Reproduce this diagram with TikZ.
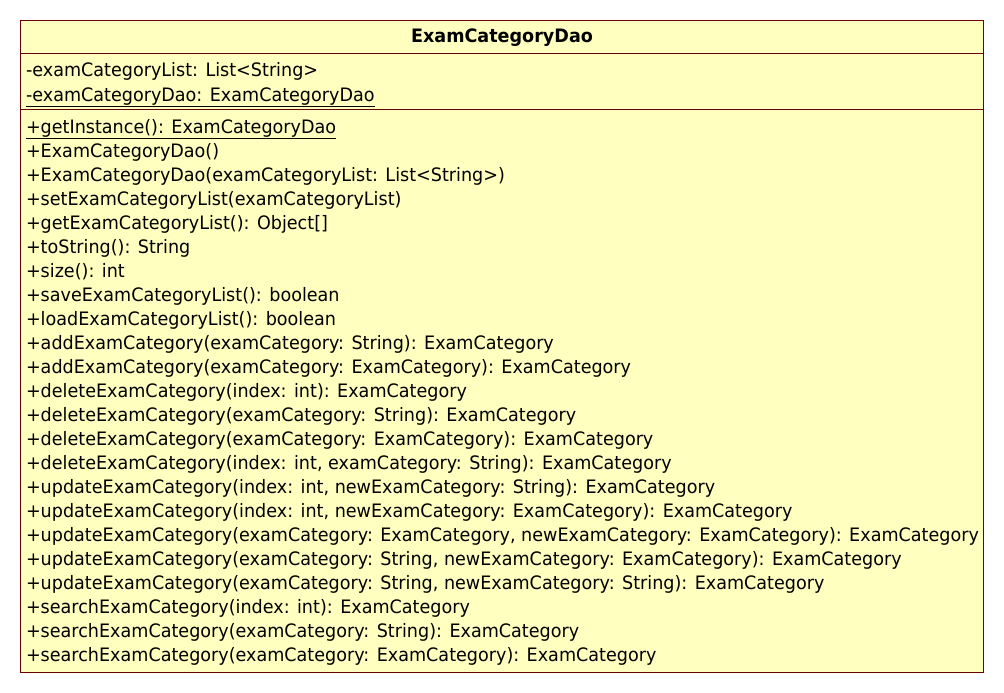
\documentclass[tikz,border=0pt]{standalone}
\usepackage{fontspec}
\setmainfont{DejaVu Sans}[FakeStretch=0.95]
\definecolor{umlfill}{HTML}{FFFFC0}
\definecolor{umlline}{HTML}{6B0000}
\newcommand{\umlfont}{\fontsize{18.5}{22}\selectfont}
\begin{document}
\begin{tikzpicture}[x=1pt,y=-1pt,
  member/.style={anchor=base west,inner sep=0pt,outer sep=0pt,font=\umlfont},
  titletext/.style={anchor=base,inner sep=0pt,font=\umlfont\bfseries}]
\useasboundingbox (0,0) rectangle (1004,693);
\fill[white] (0,0) rectangle (1004,693);
\draw[umlline,fill=umlfill,line width=1pt] (20.5,20.5) rectangle (983.5,672.5);
\draw[umlline,line width=1pt] (20.5,53.5) -- (983.5,53.5);
\draw[umlline,line width=1pt] (20.5,109.5) -- (983.5,109.5);
\node[titletext] (title) at (502,43) {ExamCategoryDao};
\node[member] (a1) at (26,77) {-examCategoryList: List<String>};
\node[member] (a2) at (26,101) {\underline{-examCategoryDao: ExamCategoryDao}};
\foreach \i/\t in {
 0/{\underline{+getInstance(): ExamCategoryDao}},
 1/{+ExamCategoryDao()},
 2/{+ExamCategoryDao(examCategoryList: List<String>)},
 3/{+setExamCategoryList(examCategoryList)},
 4/{+getExamCategoryList(): Object[]},
 5/{+toString(): String},
 6/{+size(): int},
 7/{+saveExamCategoryList(): boolean},
 8/{+loadExamCategoryList(): boolean},
 9/{+addExamCategory(examCategory: String): ExamCategory},
 10/{+addExamCategory(examCategory: ExamCategory): ExamCategory},
 11/{+deleteExamCategory(index: int): ExamCategory},
 12/{+deleteExamCategory(examCategory: String): ExamCategory},
 13/{+deleteExamCategory(examCategory: ExamCategory): ExamCategory},
 14/{+deleteExamCategory(index: int, examCategory: String): ExamCategory},
 15/{+updateExamCategory(index: int, newExamCategory: String): ExamCategory},
 16/{+updateExamCategory(index: int, newExamCategory: ExamCategory): ExamCategory},
 17/{+updateExamCategory(examCategory: ExamCategory, newExamCategory: ExamCategory): ExamCategory},
 18/{+updateExamCategory(examCategory: String, newExamCategory: ExamCategory): ExamCategory},
 19/{+updateExamCategory(examCategory: String, newExamCategory: String): ExamCategory},
 20/{+searchExamCategory(index: int): ExamCategory},
 21/{+searchExamCategory(examCategory: String): ExamCategory},
 22/{+searchExamCategory(examCategory: ExamCategory): ExamCategory}}
 \node[member] (m\i) at (26,133+24*\i) {\t};
\end{tikzpicture}
\end{document}
